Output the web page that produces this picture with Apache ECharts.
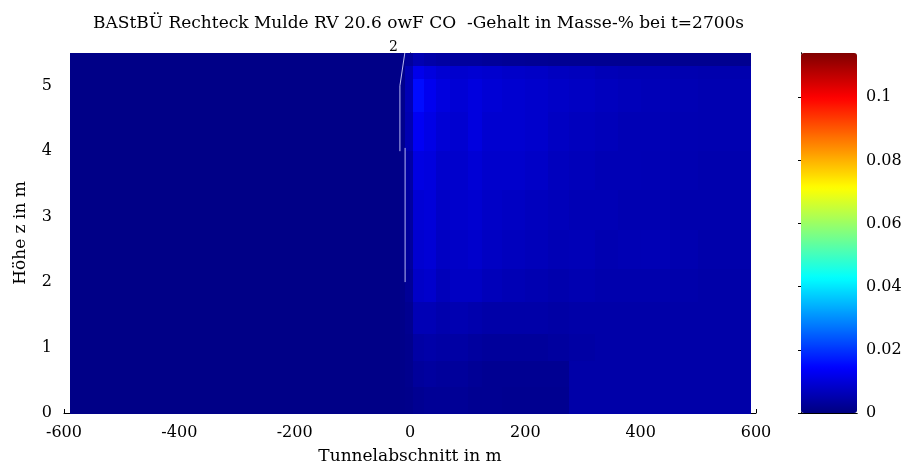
<!DOCTYPE html>
<html>
<head>
<meta charset="utf-8">
<script src="https://cdn.jsdelivr.net/npm/echarts@6/dist/echarts.min.js"></script>
<style>
  html, body { margin: 0; padding: 0; background: #fff; }
  #chart { width: 901px; height: 466px; }
</style>
</head>
<body>
<div id="chart"></div>
<script>
// Zellgrenzen Tunnelabschnitt (m) und Hoehe (m, von oben nach unten)
var xEdges = [-590, -18, -8, 5, 25, 45, 70, 100, 125, 160, 200, 240, 275, 320, 360, 400, 450, 500, 590]
var zEdges = [5.5, 5.3, 5.1, 4.6, 4.0, 3.4, 2.8, 2.2, 1.7, 1.2, 0.8, 0.4, 0]

// CO2-Gehalt in Masse-%, eine Zeile je Hoehenband (oben -> unten)
var co2Rows = [
  [0.0008, 0.0012, 0.0030, 0.0055, 0.0045, 0.0038, 0.0032, 0.0032, 0.0028, 0.0025, 0.0022, 0.0020, 0.0020, 0.0020, 0.0020, 0.0020, 0.0018, 0.0018],
  [0.0008, 0.0015, 0.0060, 0.0120, 0.0105, 0.0092, 0.0088, 0.0092, 0.0088, 0.0082, 0.0078, 0.0072, 0.0068, 0.0062, 0.0058, 0.0058, 0.0054, 0.0052],
  [0.0008, 0.0015, 0.0060, 0.0155, 0.0125, 0.0105, 0.0095, 0.0105, 0.0095, 0.0090, 0.0085, 0.0080, 0.0075, 0.0070, 0.0065, 0.0062, 0.0058, 0.0055],
  [0.0008, 0.0015, 0.0055, 0.0130, 0.0115, 0.0095, 0.0090, 0.0105, 0.0090, 0.0090, 0.0085, 0.0075, 0.0070, 0.0065, 0.0060, 0.0060, 0.0056, 0.0055],
  [0.0008, 0.0012, 0.0040, 0.0110, 0.0105, 0.0085, 0.0085, 0.0095, 0.0085, 0.0085, 0.0080, 0.0070, 0.0065, 0.0060, 0.0060, 0.0058, 0.0055, 0.0052],
  [0.0008, 0.0012, 0.0035, 0.0095, 0.0100, 0.0080, 0.0085, 0.0090, 0.0080, 0.0075, 0.0070, 0.0065, 0.0060, 0.0060, 0.0055, 0.0055, 0.0050, 0.0050],
  [0.0008, 0.0012, 0.0030, 0.0090, 0.0095, 0.0075, 0.0080, 0.0085, 0.0075, 0.0070, 0.0065, 0.0060, 0.0062, 0.0055, 0.0058, 0.0060, 0.0054, 0.0048],
  [0.0008, 0.0010, 0.0025, 0.0080, 0.0085, 0.0065, 0.0075, 0.0075, 0.0065, 0.0060, 0.0055, 0.0050, 0.0055, 0.0050, 0.0050, 0.0050, 0.0048, 0.0045],
  [0.0008, 0.0010, 0.0018, 0.0060, 0.0060, 0.0050, 0.0055, 0.0050, 0.0045, 0.0045, 0.0045, 0.0042, 0.0045, 0.0045, 0.0045, 0.0045, 0.0045, 0.0045],
  [0.0008, 0.0010, 0.0015, 0.0040, 0.0045, 0.0040, 0.0040, 0.0035, 0.0030, 0.0030, 0.0030, 0.0035, 0.0040, 0.0045, 0.0045, 0.0045, 0.0045, 0.0045],
  [0.0008, 0.0010, 0.0015, 0.0030, 0.0035, 0.0030, 0.0030, 0.0025, 0.0020, 0.0020, 0.0020, 0.0020, 0.0045, 0.0045, 0.0045, 0.0045, 0.0045, 0.0045],
  [0.0008, 0.0010, 0.0012, 0.0020, 0.0025, 0.0025, 0.0025, 0.0020, 0.0020, 0.0018, 0.0018, 0.0018, 0.0045, 0.0045, 0.0045, 0.0045, 0.0045, 0.0045]
]

// helle Konturlinien bei x ~ 0
var konturOben = [[-17.5, 4.0], [-17.5, 5.0], [-9, 5.5]]
var konturUnten = [[-8.5, 2.0], [-8.5, 4.05]]

var xTicks = [-600, -400, -200, 0, 200, 400, 600]
var zTicks = [0, 1, 2, 3, 4, 5]
var cbTicks = [0, 0.02, 0.04, 0.06, 0.08, 0.1]
var cbMax = 0.114

var jet = ['#000080', '#0000ff', '#0080ff', '#00ffff', '#80ff80', '#ffff00', '#ff8000', '#ff0000', '#800000']
var font = 'DejaVu Serif'

var cells = []
co2Rows.forEach(function(row, r) {
  row.forEach(function(v, c) {
    cells.push([xEdges[c], zEdges[r + 1], xEdges[c + 1], zEdges[r], v])
  })
})

var chart = echarts.init(document.getElementById('chart'))

chart.setOption({
  backgroundColor: '#fff',
  animation: false,
  title: [{
    text: 'BAStBÜ Rechteck Mulde RV 20.6 owF CO  -Gehalt in Masse-% bei t=2700s',
    left: 93,
    top: 15,
    padding: 0,
    textStyle: { fontFamily: font, fontSize: 17, fontWeight: 'normal', color: '#000' }
  }, {
    // tiefgestellte 2 von CO2
    text: '2',
    left: 389,
    top: 40,
    padding: 0,
    textStyle: { fontFamily: font, fontSize: 14, fontWeight: 'normal', color: '#000' }
  }],
  grid: [
    { left: 64, right: 145, top: 53, bottom: 53, outerBoundsMode: 'none' },
    { left: 801, right: 44, top: 53, bottom: 53, outerBoundsMode: 'none' }
  ],
  visualMap: {
    type: 'continuous',
    seriesIndex: 0,
    dimension: 4,
    min: 0,
    max: cbMax,
    calculable: false,
    showLabel: false,
    text: null,
    padding: 0,
    left: 801,
    top: 53,
    itemWidth: 56,
    itemHeight: 360,
    inRange: { color: jet }
  },
  xAxis: [{
    gridIndex: 0,
    type: 'value',
    min: -600,
    max: 600,
    interval: 200,
    name: 'Tunnelabschnitt in m',
    nameLocation: 'middle',
    nameGap: 35,
    nameTextStyle: { fontFamily: font, fontSize: 17, color: '#000' },
    axisLine: { lineStyle: { color: '#000', width: 1 } },
    axisTick: { inside: true, length: 4, lineStyle: { color: '#000' } },
    axisLabel: { fontFamily: font, fontSize: 16, color: '#000', margin: 12, customValues: xTicks },
    splitLine: { show: false }
  }, {
    gridIndex: 1,
    type: 'value',
    min: 0,
    max: 1,
    position: 'bottom',
    axisLine: { lineStyle: { color: '#000' } },
    axisTick: { show: false },
    axisLabel: { show: false },
    splitLine: { show: false }
  }, {
    gridIndex: 1,
    type: 'value',
    min: 0,
    max: 1,
    position: 'top',
    axisLine: { lineStyle: { color: '#000' } },
    axisTick: { show: false },
    axisLabel: { show: false },
    splitLine: { show: false }
  }],
  yAxis: [{
    gridIndex: 0,
    type: 'value',
    min: 0,
    max: 5.5,
    interval: 1,
    name: 'Höhe z in m',
    nameLocation: 'middle',
    nameGap: 35,
    nameRotate: 90,
    nameTextStyle: { fontFamily: font, fontSize: 17, color: '#000' },
    axisLine: { lineStyle: { color: '#000', width: 1 } },
    axisTick: { inside: true, length: 4, customValues: zTicks, lineStyle: { color: '#000' } },
    axisLabel: { fontFamily: font, fontSize: 16, color: '#000', margin: 12, customValues: zTicks },
    splitLine: { show: false }
  }, {
    gridIndex: 1,
    type: 'value',
    min: 0,
    max: cbMax,
    position: 'right',
    axisLine: { lineStyle: { color: '#000' } },
    axisTick: { inside: true, length: 3, customValues: cbTicks, lineStyle: { color: '#000' } },
    axisLabel: {
      fontFamily: font, fontSize: 16, color: '#000', margin: 9, customValues: cbTicks,
      formatter: function(v) { return String(+v.toFixed(2)) }
    },
    splitLine: { show: false }
  }, {
    gridIndex: 1,
    type: 'value',
    min: 0,
    max: cbMax,
    position: 'left',
    axisLine: { lineStyle: { color: '#000' } },
    axisTick: { inside: true, length: 3, customValues: cbTicks, lineStyle: { color: '#000' } },
    axisLabel: { show: false },
    splitLine: { show: false }
  }],
  series: [{
    type: 'custom',
    xAxisIndex: 0,
    yAxisIndex: 0,
    encode: { x: [0, 2], y: [1, 3] },
    silent: true,
    renderItem: function(params, api) {
      var p0 = api.coord([api.value(0), api.value(1)])
      var p1 = api.coord([api.value(2), api.value(3)])
      var x0 = Math.round(p0[0]), x1 = Math.round(p1[0])
      var yTop = Math.round(p1[1]), yBot = Math.round(p0[1])
      return {
        type: 'rect',
        shape: { x: x0, y: yTop, width: x1 - x0 + 1, height: yBot - yTop + 1 },
        style: { fill: api.visual('color') }
      }
    },
    data: cells
  }, {
    type: 'line',
    xAxisIndex: 0,
    yAxisIndex: 0,
    silent: true,
    symbol: 'none',
    z: 5,
    lineStyle: { color: '#b8b8f0', width: 1 },
    data: konturOben
  }, {
    type: 'line',
    xAxisIndex: 0,
    yAxisIndex: 0,
    silent: true,
    symbol: 'none',
    z: 5,
    lineStyle: { color: '#b8b8f0', width: 1 },
    data: konturUnten
  }]
})
</script>
</body>
</html>
